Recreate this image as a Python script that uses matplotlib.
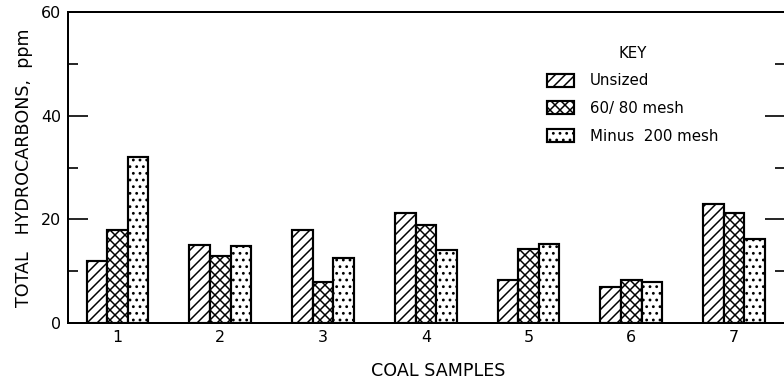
import numpy as np
import matplotlib
matplotlib.use('Agg')
import matplotlib.pyplot as plt

samples = ['1', '2', '3', '4', '5', '6', '7']
unsized = [12, 15, 18, 21.2, 8.4, 6.9, 22.9]
mesh_60_80 = [18, 13, 8, 19, 14.4, 8.4, 21.3]
minus_200 = [32, 14.8, 12.5, 14.2, 15.2, 7.9, 16.2]
series_names = ['Unsized', '60/ 80 mesh', 'Minus  200 mesh']

plt.rcParams['font.family'] = 'DejaVu Sans'
plt.rcParams['hatch.linewidth'] = 0.9

fig = plt.figure(figsize=(784 / 120, 383 / 120), dpi=120)
ax = fig.add_axes([68 / 784, 1 - 323.3 / 383, (785 - 68) / 784, (323.3 - 11.7) / 383])

x = np.arange(1, len(samples) + 1)
w = 0.2
kw = dict(width=w, color='white', edgecolor='black', linewidth=1.3)
ax.bar(x - w, unsized, hatch='////', label=series_names[0], **kw)
ax.bar(x, mesh_60_80, hatch='xxxx', label=series_names[1], **kw)
ax.bar(x + w, minus_200, hatch='...', label=series_names[2], **kw)

ax.set_xlim(0.518, 7.496)
ax.set_ylim(0, 60)
ax.set_xticks(x)
ax.set_xticklabels(samples)
ax.set_yticks([0, 20, 40, 60])
ax.set_yticks([10, 30, 50], minor=True)

for s in ax.spines.values():
    s.set_linewidth(1.2)

ax.tick_params(axis='x', length=0, pad=4, labelsize=9.5)
ax.tick_params(axis='y', which='major', direction='in', length=12, width=1.0,
               right=True, labelsize=9.5, pad=4)
ax.tick_params(axis='y', which='minor', direction='in', length=6, width=1.0, right=True)

ax.set_ylabel('TOTAL   HYDROCARBONS,  ppm', fontsize=10.5, labelpad=5)
ax.set_xlabel('COAL SAMPLES', fontsize=10.5)
ax.xaxis.set_label_coords((438 - 68) / (785 - 68), -0.125)

leg = ax.legend(title='KEY', frameon=False, fontsize=9, title_fontsize=9,
                handlelength=1.8, handleheight=0.95, handletextpad=1.1,
                labelspacing=0.85, loc='upper left',
                bbox_to_anchor=(533 / 784, 1 - 32 / 383), bbox_transform=fig.transFigure)

fig.savefig('out.png', dpi=120)
